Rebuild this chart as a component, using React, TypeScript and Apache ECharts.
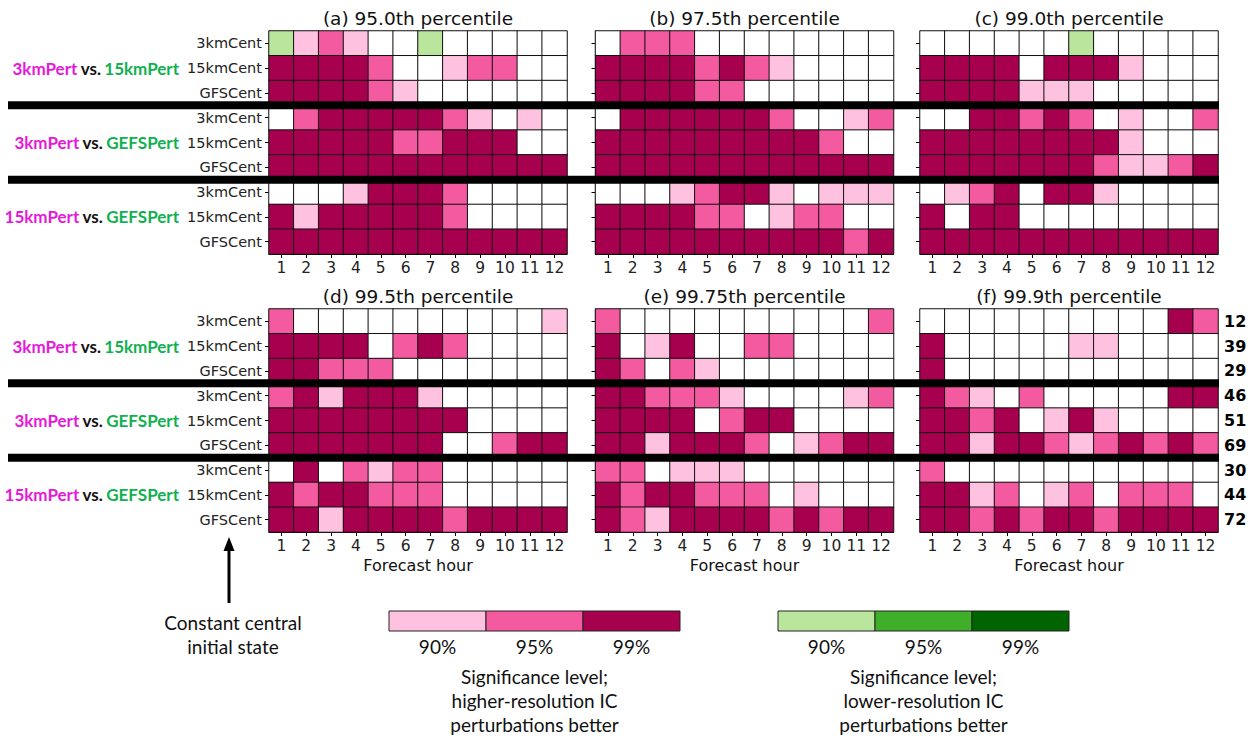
import React, { useEffect, useRef } from "react";
import * as echarts from "echarts";

const HOURS = ["1", "2", "3", "4", "5", "6", "7", "8", "9", "10", "11", "12"];
const ROW_NAMES = ["3kmCent", "15kmCent", "GFSCent"];
const GROUP_LEFT = ["3kmPert", "3kmPert", "15kmPert"];
const GROUP_RIGHT = ["15kmPert", "GEFSPert", "GEFSPert"];
const PANEL_TITLES = [
  "(a) 95.0th percentile",
  "(b) 97.5th percentile",
  "(c) 99.0th percentile",
  "(d) 99.5th percentile",
  "(e) 99.75th percentile",
  "(f) 99.9th percentile",
];
// value: 0 none, 1/2/3 = 90/95/99% higher-res better, -1/-2/-3 = lower-res better
const P950 = [
  [-1, 1, 2, 1, 0, 0, -1, 0, 0, 0, 0, 0],
  [3, 3, 3, 3, 2, 0, 0, 1, 2, 2, 0, 0],
  [3, 3, 3, 3, 2, 1, 0, 0, 0, 0, 0, 0],
  [0, 2, 3, 3, 3, 3, 3, 2, 1, 0, 1, 0],
  [3, 3, 3, 3, 3, 2, 2, 3, 3, 3, 0, 0],
  [3, 3, 3, 3, 3, 3, 3, 3, 3, 3, 3, 3],
  [0, 0, 0, 1, 3, 3, 3, 2, 0, 0, 0, 0],
  [3, 1, 3, 3, 3, 3, 3, 2, 0, 0, 0, 0],
  [3, 3, 3, 3, 3, 3, 3, 3, 3, 3, 3, 3],
];
const P975 = [
  [0, 2, 2, 2, 0, 0, 0, 0, 0, 0, 0, 0],
  [3, 3, 3, 3, 2, 3, 2, 1, 0, 0, 0, 0],
  [3, 3, 3, 3, 2, 2, 0, 0, 0, 0, 0, 0],
  [0, 3, 3, 3, 3, 3, 3, 2, 0, 0, 1, 2],
  [3, 3, 3, 3, 3, 3, 3, 3, 3, 2, 0, 0],
  [3, 3, 3, 3, 3, 3, 3, 3, 3, 3, 3, 3],
  [0, 0, 0, 1, 2, 3, 3, 1, 0, 1, 1, 1],
  [3, 3, 3, 3, 2, 2, 0, 1, 2, 2, 0, 0],
  [3, 3, 3, 3, 3, 3, 3, 3, 3, 3, 2, 3],
];
const P990 = [
  [0, 0, 0, 0, 0, 0, -1, 0, 0, 0, 0, 0],
  [3, 3, 3, 3, 0, 3, 3, 3, 1, 0, 0, 0],
  [3, 3, 3, 3, 1, 1, 1, 0, 0, 0, 0, 0],
  [0, 0, 3, 3, 2, 3, 2, 0, 1, 0, 0, 2],
  [3, 3, 3, 3, 3, 3, 3, 3, 1, 0, 0, 0],
  [3, 3, 3, 3, 3, 3, 3, 2, 1, 1, 2, 3],
  [0, 1, 2, 3, 0, 3, 3, 1, 0, 0, 0, 0],
  [3, 0, 3, 3, 0, 0, 0, 0, 0, 0, 0, 0],
  [3, 3, 3, 3, 3, 3, 3, 3, 3, 3, 3, 3],
];
const P995 = [
  [2, 0, 0, 0, 0, 0, 0, 0, 0, 0, 0, 1],
  [3, 3, 3, 3, 0, 2, 3, 2, 0, 0, 0, 0],
  [3, 3, 2, 2, 2, 0, 0, 0, 0, 0, 0, 0],
  [2, 3, 1, 3, 3, 3, 1, 0, 0, 0, 0, 0],
  [3, 3, 3, 3, 3, 3, 3, 3, 0, 0, 0, 0],
  [3, 3, 3, 3, 3, 3, 3, 0, 0, 2, 3, 3],
  [0, 3, 0, 2, 1, 2, 2, 0, 0, 0, 0, 0],
  [3, 2, 3, 3, 2, 2, 2, 0, 0, 0, 0, 0],
  [3, 3, 1, 3, 3, 3, 3, 2, 3, 3, 3, 3],
];
const P9975 = [
  [2, 0, 0, 0, 0, 0, 0, 0, 0, 0, 0, 2],
  [3, 0, 1, 3, 0, 0, 2, 2, 0, 0, 0, 0],
  [3, 2, 0, 2, 1, 0, 0, 0, 0, 0, 0, 0],
  [3, 3, 2, 2, 2, 1, 0, 0, 0, 0, 1, 2],
  [3, 3, 3, 3, 0, 2, 3, 3, 0, 0, 0, 0],
  [3, 3, 1, 3, 3, 3, 2, 0, 1, 2, 3, 3],
  [2, 2, 0, 1, 1, 1, 0, 0, 0, 0, 0, 0],
  [3, 2, 3, 3, 2, 2, 2, 0, 1, 0, 0, 0],
  [3, 2, 1, 3, 3, 3, 3, 2, 3, 2, 3, 3],
];
const P999 = [
  [0, 0, 0, 0, 0, 0, 0, 0, 0, 0, 3, 2],
  [3, 0, 0, 0, 0, 0, 1, 1, 0, 0, 0, 0],
  [3, 0, 0, 0, 0, 0, 0, 0, 0, 0, 0, 0],
  [3, 2, 1, 0, 2, 0, 0, 0, 0, 0, 3, 3],
  [3, 3, 2, 3, 0, 1, 3, 1, 0, 0, 0, 0],
  [3, 3, 1, 3, 3, 2, 1, 2, 3, 2, 3, 2],
  [2, 0, 0, 0, 0, 0, 0, 0, 0, 0, 0, 0],
  [3, 3, 1, 2, 0, 1, 2, 0, 2, 2, 2, 0],
  [3, 3, 2, 3, 2, 3, 3, 2, 3, 3, 3, 3],
];
const PANELS = [P950, P975, P990, P995, P9975, P999];
const ROW_TOTALS = ["12", "39", "29", "46", "51", "69", "30", "44", "72"];
const LEVELS = ["90%", "95%", "99%"];
const PINKS = ["#fec2e0", "#f45aa0", "#a6004f"];
const GREENS = ["#b9e69c", "#3fae29", "#006400"];

const FONT = "DejaVu Sans";
const LFONT = "Lato";

export default function App() {
  const ref = useRef<HTMLDivElement>(null);
  useEffect(() => {
    document.body.style.margin = "0";
    const chart = echarts.init(ref.current!, null, { renderer: "svg" });
    const W = 298;
    const H = 223;
    const cellH = H / 9;
    const lefts = [269, 595.5, 920];
    const tops = [31, 309];
    const rowKeys = Array.from({ length: 9 }, (_, i) => "r" + i);

    const grids: any[] = [];
    const xAxes: any[] = [];
    const yAxes: any[] = [];
    const series: any[] = [];
    const graphics: any[] = [];

    PANELS.forEach((panel, p) => {
      const col = p % 3;
      const row = Math.floor(p / 3);
      const left = lefts[col];
      const top = tops[row];
      grids.push({ left, top, width: W, height: H });
      xAxes.push({
        type: "category",
        gridIndex: p,
        data: HOURS,
        axisLine: { show: true, lineStyle: { color: "#000", width: 1 } },
        axisTick: { show: true, alignWithLabel: true, length: 4, lineStyle: { color: "#000" } },
        axisLabel: { show: true, color: "#222", fontFamily: FONT, fontSize: 15.5, margin: 6, interval: 0 },
        splitLine: { show: false },
      });
      yAxes.push({
        type: "category",
        gridIndex: p,
        inverse: true,
        data: rowKeys,
        axisLine: { show: true, lineStyle: { color: "#000", width: 1 } },
        axisTick: { show: true, alignWithLabel: true, length: 4, lineStyle: { color: "#000" } },
        axisLabel: {
          show: col === 0,
          color: "#222",
          fontFamily: FONT,
          fontSize: 14.5,
          margin: 7,
          formatter: (v: string) => ROW_NAMES[Number(v.slice(1)) % 3],
        },
        splitLine: { show: false },
      });
      const data: any[] = [];
      panel.forEach((r, yi) => r.forEach((v, xi) => data.push([xi, yi, v])));
      series.push({
        type: "heatmap",
        xAxisIndex: p,
        yAxisIndex: p,
        data,
        itemStyle: { borderColor: "#111", borderWidth: 1 },
        emphasis: { disabled: true },
        label: { show: false },
      });
      graphics.push({
        type: "text",
        x: left + W / 2,
        y: top - 13,
        style: {
          text: PANEL_TITLES[p],
          fontFamily: FONT,
          fontSize: 18.5,
          fill: "#111",
          textAlign: "center",
          textVerticalAlign: "middle",
        },
      });
      if (row === 1) {
        graphics.push({
          type: "text",
          x: left + W / 2,
          y: top + H + 33,
          style: {
            text: "Forecast hour",
            fontFamily: FONT,
            fontSize: 16,
            fill: "#111",
            textAlign: "center",
            textVerticalAlign: "middle",
          },
        });
      }
    });

    // group labels + separators
    tops.forEach((top) => {
      [0, 1, 2].forEach((g) => {
        graphics.push({
          type: "text",
          x: 179,
          y: top + (g * 3 + 1.5) * cellH,
          style: {
            text: `{p|${GROUP_LEFT[g]}} {k|vs.} {g|${GROUP_RIGHT[g]}}`,
            textAlign: "right",
            textVerticalAlign: "middle",
            rich: {
              p: { fontFamily: LFONT, fontWeight: "bold", fontSize: 17, fill: "#e619d9", color: "#e619d9" },
              k: { fontFamily: LFONT, fontWeight: "bold", fontSize: 17, fill: "#111", color: "#111" },
              g: { fontFamily: LFONT, fontWeight: "bold", fontSize: 17, fill: "#10b14f", color: "#10b14f" },
            },
          },
        });
      });
      [3, 6].forEach((b) => {
        graphics.push({
          type: "rect",
          z: 100,
          shape: { x: 8, y: top + b * cellH - 4, width: 1211, height: 8 },
          style: { fill: "#000" },
        });
      });
    });

    ROW_TOTALS.forEach((t, i) => {
      graphics.push({
        type: "text",
        x: 1224,
        y: tops[1] + (i + 0.5) * cellH,
        style: {
          text: t,
          fontFamily: FONT,
          fontWeight: "bold",
          fontSize: 16,
          fill: "#000",
          textAlign: "left",
          textVerticalAlign: "middle",
        },
      });
    });

    // arrow + note
    graphics.push({
      type: "line",
      shape: { x1: 229, y1: 603, x2: 229, y2: 548 },
      style: { stroke: "#000", lineWidth: 3 },
    });
    graphics.push({
      type: "polygon",
      shape: { points: [[229, 537], [223.5, 551], [234.5, 551]] },
      style: { fill: "#000" },
    });
    ["Constant central", "initial state"].forEach((t, i) => {
      graphics.push({
        type: "text",
        x: 233,
        y: 622 + i * 24,
        style: { text: t, fontFamily: LFONT, fontSize: 19, fill: "#111", textAlign: "center", textVerticalAlign: "middle" },
      });
    });

    // legends
    const legends = [
      { x: 389, colors: PINKS, lines: ["Significance level;", "higher-resolution IC", "perturbations better"] },
      { x: 778, colors: GREENS, lines: ["Significance level;", "lower-resolution IC", "perturbations better"] },
    ];
    legends.forEach((lg) => {
      const segW = 97;
      lg.colors.forEach((c, i) => {
        graphics.push({
          type: "rect",
          shape: { x: lg.x + i * segW, y: 611, width: segW, height: 20 },
          style: { fill: c, stroke: "#222", lineWidth: 1 },
        });
        graphics.push({
          type: "text",
          x: lg.x + (i + 0.5) * segW,
          y: 646,
          style: { text: LEVELS[i], fontFamily: LFONT, fontSize: 19, fill: "#111", textAlign: "center", textVerticalAlign: "middle" },
        });
      });
      lg.lines.forEach((t, i) => {
        graphics.push({
          type: "text",
          x: lg.x + 1.5 * segW,
          y: 676 + i * 24,
          style: { text: t, fontFamily: LFONT, fontSize: 19, fill: "#111", textAlign: "center", textVerticalAlign: "middle" },
        });
      });
    });

    chart.setOption({
      animation: false,
      backgroundColor: "#fff",
      grid: grids,
      xAxis: xAxes,
      yAxis: yAxes,
      visualMap: {
        type: "piecewise",
        show: false,
        dimension: 2,
        seriesIndex: [0, 1, 2, 3, 4, 5],
        pieces: [
          { value: -3, color: GREENS[2] },
          { value: -2, color: GREENS[1] },
          { value: -1, color: GREENS[0] },
          { value: 0, color: "#ffffff" },
          { value: 1, color: PINKS[0] },
          { value: 2, color: PINKS[1] },
          { value: 3, color: PINKS[2] },
        ],
      },
      series,
      graphic: graphics,
    });
    return () => chart.dispose();
  }, []);
  return <div ref={ref} style={{ width: 1253, height: 738 }} />;
}
